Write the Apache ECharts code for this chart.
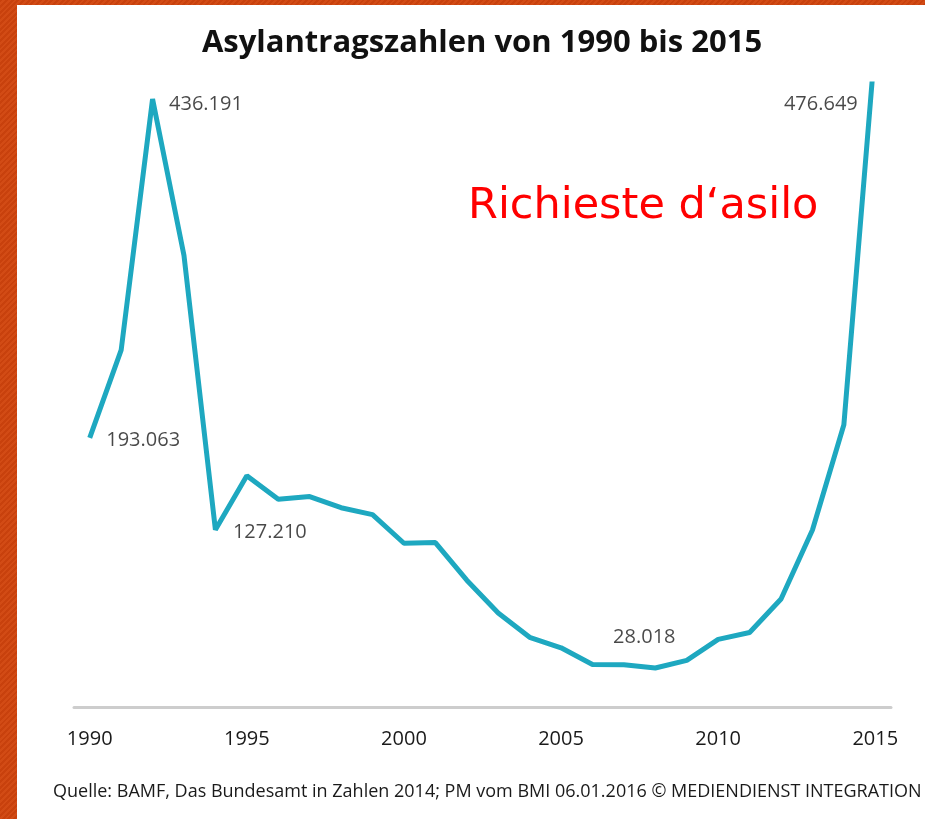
<!DOCTYPE html>
<html>
<head>
<meta charset="utf-8">
<script src="https://cdn.jsdelivr.net/npm/echarts@6/dist/echarts.min.js"></script>
<style>
  html, body { margin: 0; padding: 0; width: 925px; height: 819px; overflow: hidden; }
  body { background: repeating-linear-gradient(135deg, #c8410d 0px, #c8410d 2px, #d24b15 2px, #d24b15 4px); position: relative; }
  #panel { position: absolute; left: 17px; top: 5px; width: 908px; height: 814px; background: #ffffff; }
  #chart { position: absolute; left: 0; top: 0; width: 925px; height: 819px; }
</style>
</head>
<body>
<div id="panel"></div>
<div id="chart"></div>
<script>
// ---- data ----
const years = [1990, 1991, 1992, 1993, 1994, 1995, 1996, 1997, 1998, 1999, 2000, 2001, 2002,
               2003, 2004, 2005, 2006, 2007, 2008, 2009, 2010, 2011, 2012, 2013, 2014, 2015];
const applications = [193063, 256000, 436191, 324000, 127210, 166000, 149000, 151000, 143000, 138000,
                      117500, 118000, 91000, 67500, 50000, 42500, 30500, 30300, 28018, 33500,
                      48500, 53500, 77500, 127000, 202500, 476649];
const tickYears = [1990, 1995, 2000, 2005, 2010, 2015];
const labelledYears = [1990, 1992, 1994, 2008, 2015];
const titleText = 'Asylantragszahlen von 1990 bis 2015';
const noteText = 'Richieste d\u2018asilo';
const sourceText = 'Quelle: BAMF, Das Bundesamt in Zahlen 2014; PM vom BMI 06.01.2016 \u00A9 MEDIENDIENST INTEGRATION';

// ---- label placement (style only) ----
const labelPlacement = {
  1990: { position: 'right', offset: [16, 2] },
  1992: { position: 'right', offset: [16, 5] },
  1994: { position: 'right', offset: [17, 3] },
  2008: { position: 'inside', offset: [-11, -31] },
  2015: { position: 'left', offset: [-17, 62] }
};

function deFormat(v) {
  return String(v).replace(/\B(?=(\d{3})+(?!\d))/g, '.');
}

const lineData = years.map((y, i) => [y, applications[i]]);
const labelData = labelledYears.map(y => {
  const i = years.indexOf(y);
  const p = labelPlacement[y];
  return {
    value: [y, applications[i]],
    label: { show: true, position: p.position, offset: p.offset, distance: 0 }
  };
});

const chart = echarts.init(document.getElementById('chart'), null, { renderer: 'canvas' });
chart.setOption({
  animation: false,
  backgroundColor: 'transparent',
  grid: { left: 74, right: 34, top: 84, bottom: 112, containLabel: false },
  xAxis: {
    type: 'value',
    min: 1989.5,
    max: 2015.5,
    splitLine: { show: false },
    axisTick: { show: false },
    axisLine: { show: true, lineStyle: { color: '#cdcdcd', width: 3 } },
    axisLabel: {
      customValues: tickYears,
      formatter: v => String(v),
      color: '#1a1a1a',
      fontFamily: 'Open Sans',
      fontSize: 20,
      margin: 22
    }
  },
  yAxis: {
    type: 'value',
    min: 0,
    max: 447000,
    show: false,
    splitLine: { show: false }
  },
  graphic: [
    {
      type: 'text', x: 482, y: 43,
      style: { text: titleText, fill: '#111111', font: 'bold 31px "Open Sans"', align: 'center', verticalAlign: 'middle' }
    },
    {
      type: 'text', x: 468, y: 207,
      style: { text: noteText, fill: '#ff0000', font: '43px "DejaVu Sans"', verticalAlign: 'middle', align: 'left' }
    },
    {
      type: 'text', x: 53, y: 792,
      style: { text: sourceText, fill: '#1a1a1a', font: '18px "Open Sans"', verticalAlign: 'middle', align: 'left' }
    }
  ],
  series: [
    {
      type: 'line',
      data: lineData,
      symbol: 'none',
      clip: true,
      lineStyle: { color: '#1ea8c0', width: 5 },
      silent: true,
      z: 2
    },
    {
      type: 'scatter',
      data: labelData,
      symbolSize: 1,
      clip: false,
      itemStyle: { color: 'rgba(0,0,0,0)' },
      label: {
        show: true,
        formatter: p => deFormat(p.value[1]),
        color: '#1a1a1a',
        fontFamily: 'Open Sans',
        fontSize: 20
      },
      silent: true,
      z: 3
    }
  ]
});
</script>
</body>
</html>
